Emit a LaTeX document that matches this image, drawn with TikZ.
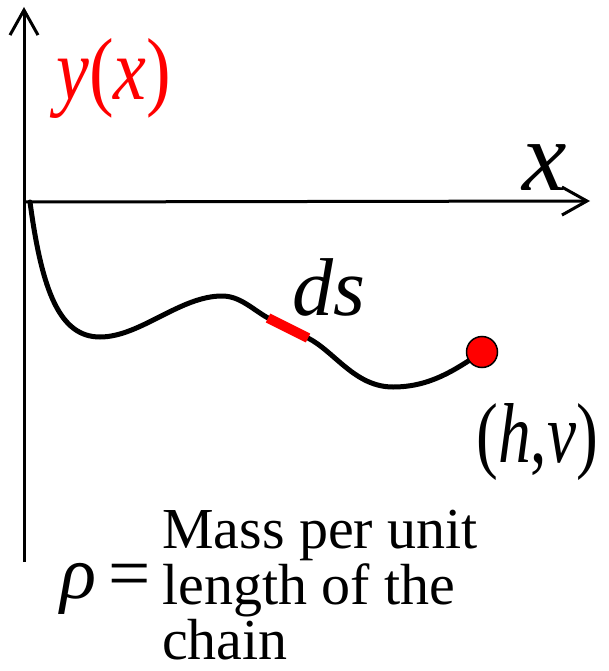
\documentclass[tikz,border=0pt]{standalone}
\usepackage{fontspec}
\setmainfont{LiberationSerif}[Extension=.ttf,UprightFont=*-Regular,ItalicFont=*-Italic,BoldFont=*-Bold,BoldItalicFont=*-BoldItalic]
\usetikzlibrary{arrows.meta}
\begin{document}
\begin{tikzpicture}[x=1pt,y=-1pt,
  axis/.style={line width=3pt,-{Straight Barb[length=25pt,width=28pt,line width=3pt]}},
  chain/.style={line width=5pt,line cap=round},
  seg/.style={line width=10pt,red},
  dot/.style={circle,draw=black,line width=1.5pt,fill=red,minimum size=31pt,inner sep=0pt},
  lbl/.style={inner sep=0pt,anchor=base west}]
\useasboundingbox (0,0) rectangle (608,671);
\coordinate (ybot) at (24,562);
\coordinate (ytip) at (24,7);
\coordinate (xs) at (24,202);
\coordinate (xtip) at (590,201);
\draw[axis] (ybot) -- (ytip);
\draw[axis] (xs) -- (xtip);
\coordinate (c0) at (30,202);
\coordinate (m1) at (100,337);
\coordinate (pk) at (222,296);
\coordinate (r1) at (268,318);
\coordinate (r2) at (308,338);
\coordinate (m2) at (393,387);
\coordinate (hv) at (482,352);
\draw[chain] (c0) .. controls (42,292) and (60,337) .. (m1)
  .. controls (140,337) and (180,296) .. (pk)
  .. controls (240,296) and (252,309) .. (r1)
  -- (r2)
  .. controls (335,352) and (355,387) .. (m2)
  .. controls (430,387) and (455,370) .. (hv);
\draw[seg] (r1) -- (r2);
\node[dot] (dot) at (hv) {};
\node[lbl,text=red] (yx) at (56,100) {\fontsize{88}{88}\selectfont\scalebox{0.84}[1]{\textit{y}(\textit{x})}};
\node[lbl] (xl) at (522,190) {\fontsize{100}{100}\selectfont\textit{x}};
\node[lbl] (ds) at (292,315) {\fontsize{82}{82}\selectfont\textit{ds}};
\node[lbl] (hvl) at (476,462) {\fontsize{85}{85}\selectfont\scalebox{0.77}[1]{(\textit{h},\textit{v})}};
\node[lbl] (rho) at (60,598) {\fontsize{75}{75}\selectfont\textit{ρ}\,=};
\node[lbl] (def) at (162,548) {\fontsize{58}{51}\selectfont\begin{tabular}[t]{@{}l@{}}Mass per unit\\ length of the\\ chain\end{tabular}};
\end{tikzpicture}
\end{document}
